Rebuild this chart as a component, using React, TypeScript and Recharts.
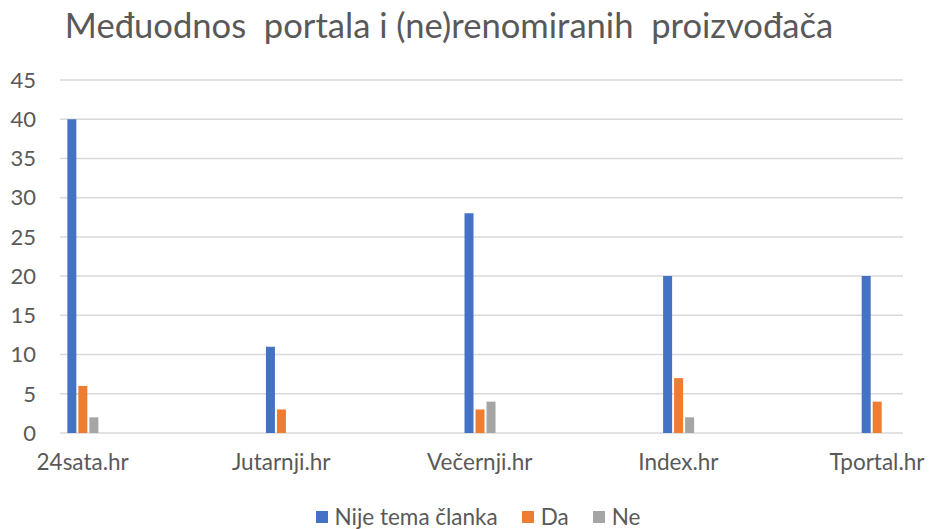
import React from "react";
import { BarChart, Bar, XAxis, YAxis, CartesianGrid } from "recharts";

// portali
const categories = ["24sata.hr", "Jutarnji.hr", "Večernji.hr", "Index.hr", "Tportal.hr"];

// serije
const nijeTema = [40, 11, 28, 20, 20];
const da = [6, 3, 3, 7, 4];
const ne = [2, 0, 4, 2, 0];

const yTicks = [0, 5, 10, 15, 20, 25, 30, 35, 40, 45];

const series = [
  { key: "nijeTema", name: "Nije tema članka", color: "#4472C4" },
  { key: "da", name: "Da", color: "#ED7D31" },
  { key: "ne", name: "Ne", color: "#A5A5A5" },
];

const data = categories.map((name, i) => ({
  pos: i,
  name,
  nijeTema: nijeTema[i],
  da: da[i],
  ne: ne[i],
}));

const FONT = "Lato, 'Noto Sans', sans-serif";
const TEXT = "#595959";

const App = () => {
  return (
    <div
      style={{
        position: "absolute",
        left: 0,
        top: 0,
        width: 933,
        height: 529,
        background: "#fff",
        fontFamily: FONT,
        overflow: "hidden",
      }}
    >
      <div
        style={{
          position: "absolute",
          left: 0,
          width: 898,
          top: 4,
          textAlign: "center",
          fontSize: 34.6,
          color: TEXT,
          whiteSpace: "pre",
        }}
      >
        {"Međuodnos  portala i (ne)renomiranih  proizvođača"}
      </div>

      <BarChart
        width={933}
        height={529}
        data={data}
        margin={{ top: 80, right: 30, left: 0, bottom: 0 }}
        barGap={2}
      >
        <CartesianGrid vertical={false} stroke="#D9D9D9" strokeWidth={1.5} />
        <XAxis
          dataKey="pos"
          type="number"
          domain={[-0.114, 4.131]}
          allowDataOverflow
          ticks={[0, 1, 2, 3, 4]}
          tickFormatter={(v: number) => categories[v] ?? ""}
          interval={0}
          axisLine={false}
          tickLine={false}
          tickSize={0}
          tickMargin={21}
          height={96}
          tick={{ fill: TEXT, fontSize: 22.5, fontFamily: FONT }}
        />
        <YAxis
          domain={[0, 45]}
          ticks={yTicks}
          interval={0}
          width={60}
          axisLine={false}
          tickLine={false}
          tickSize={0}
          tickMargin={24}
          tick={{ fill: TEXT, fontSize: 22, fontFamily: FONT }}
        />
        {series.map((s) => (
          <Bar
            key={s.key}
            dataKey={s.key}
            name={s.name}
            fill={s.color}
            barSize={9}
            isAnimationActive={false}
          />
        ))}
      </BarChart>

      <div
        style={{
          position: "absolute",
          left: 0,
          width: 956,
          top: 505,
          height: 24,
          display: "flex",
          justifyContent: "center",
          alignItems: "center",
          fontSize: 22.5,
          lineHeight: "22px",
          color: TEXT,
          gap: 24,
        }}
      >
        {series.map((s) => (
          <div key={s.key} style={{ display: "flex", alignItems: "center" }}>
            <span
              style={{
                display: "inline-block",
                width: 12,
                height: 12,
                background: s.color,
                marginRight: 7,
              }}
            />
            <span>{s.name}</span>
          </div>
        ))}
      </div>
    </div>
  );
};

export default App;
